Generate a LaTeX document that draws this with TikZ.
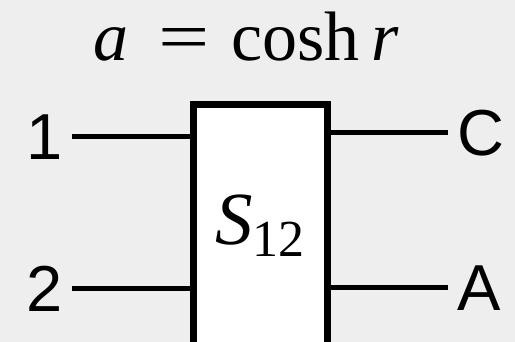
\documentclass[tikz,border=0pt]{standalone}
\usepackage{fontspec}
\setmainfont{Liberation Serif}
\newfontfamily\labelfont{Liberation Sans}
\usepackage{graphicx}
\usepackage{tikz}
\usetikzlibrary{positioning}
\definecolor{paperbg}{RGB}{238,238,238}

\begin{document}
\begin{tikzpicture}[
    x=1pt, y=-1pt,
    portlabel/.style={font=\labelfont\fontsize{65}{65}\selectfont, inner sep=9pt},
    blockbox/.style={rectangle, draw=black, fill=white, line width=7pt, minimum width=134pt, minimum height=300pt},
    mathlabel/.style={inner sep=0pt},
    wire/.style={line width=5pt, draw=black}
]

% page frame and paper
\useasboundingbox (0,0) rectangle (515,342);
\fill[paperbg] (0,0) rectangle (515,342);
\clip (0,0) rectangle (515,342);

% the beam splitter block, running off the bottom edge
\node[blockbox] (box) at (260.5,254.5) {};
\node[mathlabel, anchor=base] (s12) at (260,245)
  {\fontsize{75}{75}\selectfont\itshape S\raisebox{-12pt}{\upshape\fontsize{52}{52}\selectfont 12}};
\node[mathlabel, anchor=base] (title) at (246,61)
  {\fontsize{70}{70}\selectfont\itshape a\hspace{30pt}\upshape\scalebox{1.3}[1]{=}\hspace{22pt}cosh\hspace{12pt}\itshape r};

% ports
\node[portlabel, anchor=east] (in1) at (72,137) {1};
\node[portlabel, anchor=east] (in2) at (72,289) {2};
\node[portlabel, anchor=west] (outc) at (448,133) {C};
\node[portlabel, anchor=west] (outa) at (448,288) {A};

\draw[wire] (in1) -- (in1 -| box.west);
\draw[wire] (in2) -- (in2 -| box.west);
\draw[wire] (box.east |- outc) -- (outc);
\draw[wire] (box.east |- outa) -- (outa);

\end{tikzpicture}
\end{document}
